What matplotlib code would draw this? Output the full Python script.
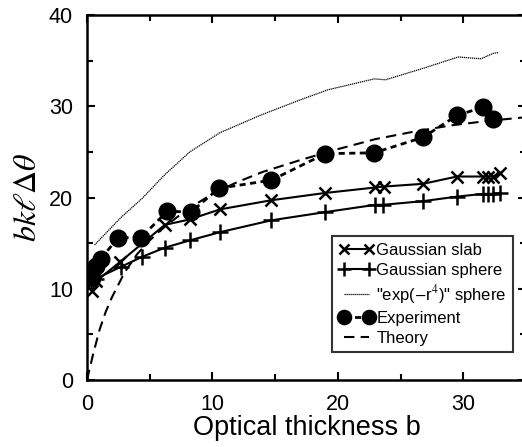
import matplotlib
matplotlib.use("Agg")
import matplotlib.pyplot as plt
from matplotlib.ticker import MultipleLocator

plt.rcParams['font.family'] = ['Liberation Sans', 'DejaVu Sans']
plt.rcParams['mathtext.fontset'] = 'stix'

# Gaussian slab
slab_b = [0.4, 0.7, 2.6, 6.2, 8.2, 10.6, 14.7, 19.0, 23.0, 23.7, 26.8, 29.5, 31.6, 32.0, 32.4, 32.9]
slab_v = [9.7, 10.8, 12.9, 17.0, 17.6, 18.7, 19.7, 20.5, 21.1, 21.2, 21.5, 22.3, 22.3, 22.3, 22.3, 22.7]

# Gaussian sphere
sph_b = [0.7, 2.7, 4.4, 6.2, 8.2, 10.6, 14.7, 19.0, 23.0, 23.6, 26.8, 29.5, 31.6, 32.0, 32.4, 32.9]
sph_v = [11.1, 12.4, 13.5, 14.5, 15.3, 16.2, 17.5, 18.4, 19.2, 19.2, 19.6, 20.1, 20.4, 20.4, 20.4, 20.5]

# "exp(-r^4)" sphere
exp_b = [0.6, 2.7, 4.4, 6.2, 8.2, 10.6, 13.8, 17.0, 19.2, 22.9, 23.8, 26.9, 29.6, 31.4, 32.4, 32.8]
exp_v = [14.8, 17.8, 19.9, 22.5, 25.0, 27.1, 29.0, 30.7, 31.8, 33.0, 32.9, 34.2, 35.4, 35.2, 35.8, 35.9]

# Experiment
expt_b = [0.4, 0.7, 1.1, 2.5, 4.3, 6.4, 8.3, 10.5, 14.7, 19.0, 22.9, 26.8, 29.5, 31.6, 32.4]
expt_v = [11.2, 12.5, 13.3, 15.6, 15.6, 18.5, 18.4, 21.0, 21.9, 24.8, 24.9, 26.6, 29.0, 29.9, 28.6]

# Theory
th_b = [0, 0.5, 1, 1.5, 2, 3, 4, 5, 6, 8, 10, 12, 14, 17, 20, 23, 26, 29, 32, 35]
th_v = [0, 2.9, 5.5, 7.5, 9.1, 11.8, 13.8, 15.3, 16.6, 18.7, 20.4, 21.7, 22.8, 24.1, 25.3, 26.4, 27.2, 27.9, 28.4, 28.8]

fig = plt.figure(figsize=(5.22, 4.47), dpi=100)
ax = fig.add_axes([87/522, 67/447, 439/522, 365/447])

ax.plot(slab_b, slab_v, color='black', lw=1.5, marker='x', ms=9, mew=1.8, label='Gaussian slab')
ax.plot(sph_b, sph_v, color='black', lw=1.5, marker='+', ms=12, mew=1.8, label='Gaussian sphere')
ax.plot(exp_b, exp_v, color='black', lw=0.9, ls=(0, (1, 0.6)), label='"exp($-$r$^4$)" sphere')
ax.plot(expt_b, expt_v, color='black', lw=2, ls=(0, (2.2, 1.6)), marker='o', ms=12, label='Experiment')
ax.plot(th_b, th_v, color='black', lw=1.5, ls=(0, (5, 3)), label='Theory')

ax.set_xlim(0, 35)
ax.set_ylim(0, 40)
ax.xaxis.set_major_locator(MultipleLocator(10))
ax.xaxis.set_minor_locator(MultipleLocator(5))
ax.yaxis.set_major_locator(MultipleLocator(10))
ax.yaxis.set_minor_locator(MultipleLocator(5))
ax.tick_params(which='both', direction='in', top=True, right=True, width=1.5)
ax.tick_params(which='major', length=6, labelsize=15.5, pad=10)
ax.tick_params(which='minor', length=4)
for s in ax.spines.values():
    s.set_linewidth(1.8)

ax.set_xlabel('Optical thickness b', fontsize=19.5, labelpad=0)
ax.set_ylabel(r'$bk\ell\Delta\theta$', fontsize=23, labelpad=4)

leg = ax.legend(loc='upper left', bbox_to_anchor=(332/522, 1 - 236/447), bbox_transform=fig.transFigure,
                fontsize=12, frameon=True, fancybox=False, numpoints=2, markerscale=0.85,
                handlelength=2.1, handletextpad=0.15, borderpad=0.4, labelspacing=0.3,
                borderaxespad=0)
leg.get_frame().set_edgecolor('black')
leg.get_frame().set_linewidth(1.5)

fig.savefig('out.png', dpi=100)
